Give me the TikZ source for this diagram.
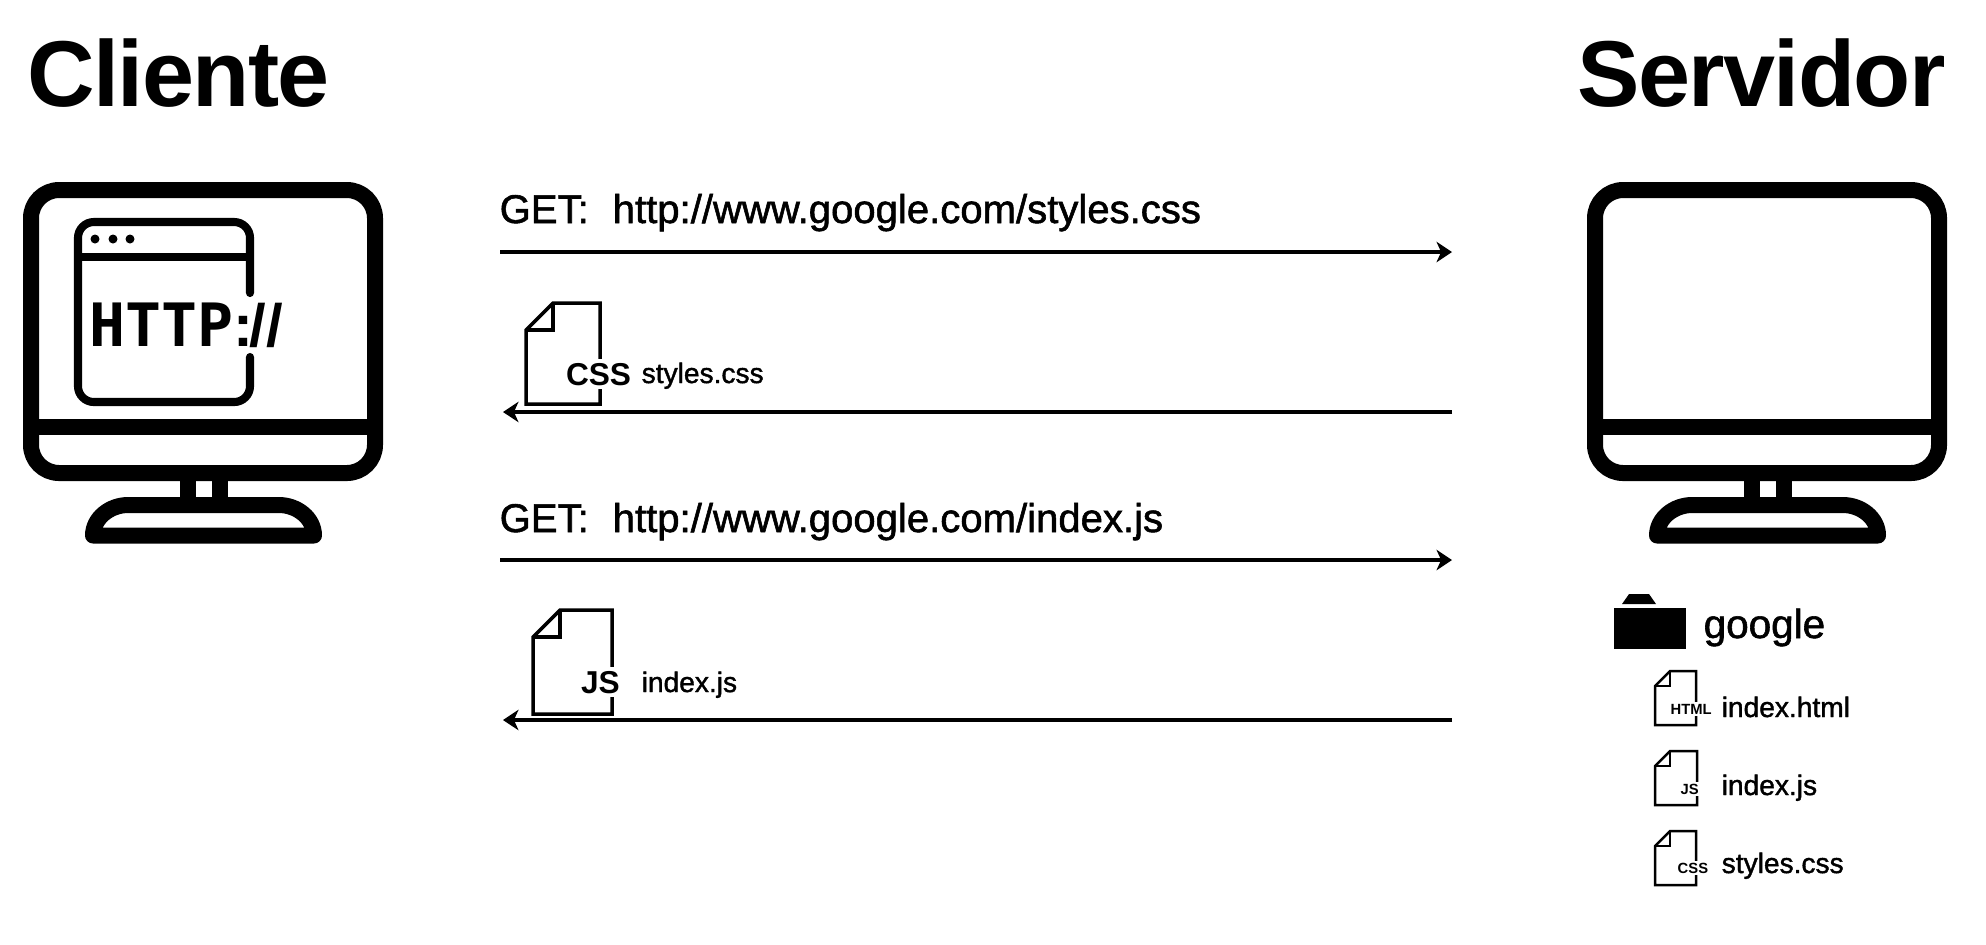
\documentclass[tikz,border=0pt]{standalone}
\usepackage{fontspec}
\setmainfont{Liberation Sans}
\newfontfamily\monofam{DejaVu Sans Mono}
\newfontfamily\medfam[FakeBold=1.4]{Liberation Sans}
\newfontfamily\titlefam[LetterSpace=-1.8]{Liberation Sans}
\usetikzlibrary{arrows.meta}
\tikzset{
    titletext/.style={anchor=base west,inner sep=0pt,font=\fontsize{26.6}{30}\selectfont\titlefam\bfseries},
    urltext/.style={anchor=base west,inner sep=0pt,font=\fontsize{11.4}{13}\selectfont\medfam},
    nametext/.style={anchor=base west,inner sep=0pt,font=\fontsize{8}{10}\selectfont\medfam},
    extbig/.style={anchor=base west,inner xsep=0pt,inner ysep=1pt,outer sep=0pt,fill=white,font=\fontsize{9}{11}\selectfont\bfseries},
    extsmall/.style={anchor=base west,inner xsep=0pt,inner ysep=0.6pt,fill=white,font=\fontsize{4.2}{5}\selectfont\bfseries},
    msg/.style={line width=1pt,-{Stealth[length=4.4pt,width=5.8pt,inset=1.3pt]}},
    monline/.style={line width=4.55pt,line join=round},
}
% file outline: x0 y0 x1 y1 fold
\newcommand{\fileicon}[5]{
    \draw (#1+#5,#2) -- (#3,#2) -- (#3,#4) -- (#1,#4) -- (#1,#2+#5) -- cycle;
    \draw (#1+#5,#2) -- (#1+#5,#2+#5) -- (#1,#2+#5);
}
% monitor, shifted by #1
\newcommand{\monitor}[1]{
    \begin{scope}[xshift=#1*0.01cm,monline]
        \draw [rounded corners=8pt] (31,190) rectangle (375,473);
        \draw (31,427) -- (375,427);
        \draw (187.5,481) -- (187.5,497);
        \draw (219.5,481) -- (219.5,497);
        \draw (93,535.5) .. controls (93,518) and (110,505) .. (128,505) -- (279,505) .. controls (297,505) and (314,518) .. (314,535.5) -- cycle;
    \end{scope}
}
\begin{document}
\begin{tikzpicture}[x=0.01cm,y=-0.01cm]
    \useasboundingbox (0,0) rectangle (1986,944);
    \node [titletext] (cliente) at (27,106) {Cliente};
    \node [titletext] (servidor) at (1577,106) {Servidor};

    \monitor{0}
    \monitor{1564}

    % browser window
    \draw [line width=2.3pt,line cap=round,rounded corners=4.5pt] (250,293) -- (250,222) -- (78,222) -- (78,402) -- (250,402) -- (250,357);
    \draw [line width=2.3pt] (78,257) -- (250,257);
    \fill (95,239) circle (4.5);
    \fill (113,239) circle (4.5);
    \fill (130,239) circle (4.5);
    \node [anchor=base west,inner sep=0pt,font=\fontsize{17}{19}\selectfont\bfseries] (http) at (89,346) {{\monofam HTTP}:\kern-1.2pt//};

    % messages
    \coordinate (lefta) at (500,252);
    \coordinate (righta) at (1452,252);
    \coordinate (leftb) at (503,412);
    \coordinate (rightb) at (1452,412);
    \coordinate (leftc) at (500,560);
    \coordinate (rightc) at (1452,560);
    \coordinate (leftd) at (503,720);
    \coordinate (rightd) at (1452,720);
    \draw [msg] (lefta) -- (righta);
    \draw [msg] (rightb) -- (leftb);
    \draw [msg] (leftc) -- (rightc);
    \draw [msg] (rightd) -- (leftd);
    \node [urltext] (geta) at (499,223) {GET:};
    \node [urltext] (urla) at (612,223) {http://www.google.com/styles.css};
    \node [urltext] (getb) at (499,532) {GET:};
    \node [urltext] (urlb) at (612,532) {http://www.google.com/index.js};

    % files sent back
    \begin{scope}[line width=1pt,line join=miter]
        \fileicon{526}{303}{600}{404}{27}
        \fileicon{533}{610}{612}{714}{27}
    \end{scope}
    \node [extbig] (cssbig) at (566,385) {CSS};
    \node [nametext] (cssname) at (641,383) {styles.css};
    \node [extbig] (jsbig) at (581,693) {JS};
    \node [nametext] (jsname) at (641,692) {index.js};

    % folder on the server
    \fill (1614,608) rectangle (1686,649);
    \fill (1622,604) -- (1629,594) -- (1649,594) -- (1656,604) -- cycle;
    \node [anchor=base west,inner sep=0pt,font=\fontsize{11.5}{13}\selectfont\medfam] (google) at (1703,638) {google};
    \begin{scope}[line width=0.7pt,line join=miter]
        \fileicon{1655}{671}{1696}{725}{15}
        \fileicon{1655}{751}{1697}{805}{15}
        \fileicon{1655}{831}{1696}{885}{15}
    \end{scope}
    \node [extsmall] (htmlsmall) at (1670,714) {HTML};
    \node [extsmall] (jssmall) at (1680,794) {JS};
    \node [extsmall] (csssmall) at (1677,873) {CSS};
    \node [nametext] (htmlname) at (1721,717) {index.html};
    \node [nametext] (jsfile) at (1721,795) {index.js};
    \node [nametext] (cssfile) at (1721,873) {styles.css};
\end{tikzpicture}
\end{document}
